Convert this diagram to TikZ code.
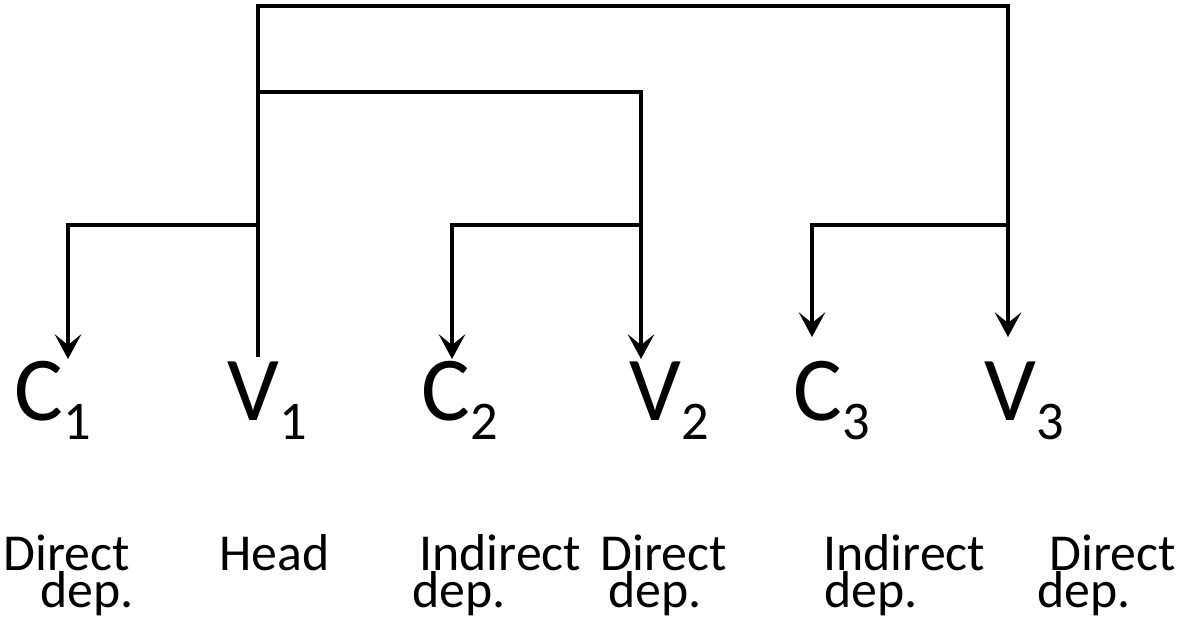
\documentclass[tikz,border=0pt]{standalone}
\usepackage{fontspec}
\setmainfont{Carlito}
\usetikzlibrary{arrows.meta}

\newcommand\unit[2]{#1\raisebox{-11.3pt}{\fontsize{31}{31}\selectfont #2}}

\tikzset{
  symbol/.style={inner sep=0pt, anchor=base west, font=\fontsize{52}{52}\selectfont},
  gloss/.style={inner sep=0pt, anchor=base west, font=\fontsize{29.5}{30}\selectfont},
  link/.style={line width=1.9pt},
  heavy link/.style={line width=2.7pt},
  points/.style={-{Stealth[length=14pt,width=15pt,inset=6pt]}}
}

\begin{document}
\begin{tikzpicture}[x=0.02cm, y=-0.02cm]
\useasboundingbox (0,0) rectangle (1183,620);

\node[symbol] (C1) at (14,420) {\unit{C}{1}};
\node[symbol] (V1) at (227,420) {\unit{V}{1}};
\node[symbol] (C2) at (421,420) {\unit{C}{2}};
\node[symbol] (V2) at (629,420) {\unit{V}{2}};
\node[symbol] (C3) at (793,420) {\unit{C}{3}};
\node[symbol] (V3) at (984,420) {\unit{V}{3}};

\foreach \x/\t [count=\i] in {3/Direct, 219/Head, 419/Indirect, 600/Direct, 823/Indirect, 1049/Direct}
  \node[gloss] (gloss top \i) at (\x,570) {\t};
\foreach \x [count=\i] in {40, 412, 608, 824, 1037}
  \node[gloss] (gloss dep \i) at (\x,607) {dep.};

\coordinate (top) at (258,6);
\coordinate (mid) at (258,92);
\coordinate (v1 hub) at (258,225);
\coordinate (v2 hub) at (641,225);
\coordinate (v3 hub) at (1008,225);
\coordinate (v1 foot) at (258,357);
\coordinate (c1 tip) at (68,359);
\coordinate (c2 tip) at (452,359);
\coordinate (v2 tip) at (641,359);
\coordinate (c3 tip) at (812,337);
\coordinate (v3 tip) at (1008,337);

\draw[link, points] (mid) -- (top) -| (v3 tip);
\draw[heavy link, points] (v1 foot) -- (mid) -| (v2 tip);
\draw[heavy link, points] (v1 hub) -| (c1 tip);
\draw[heavy link, points] (v2 hub) -| (c2 tip);
\draw[link, points] (v3 hub) -| (c3 tip);
\end{tikzpicture}
\end{document}
